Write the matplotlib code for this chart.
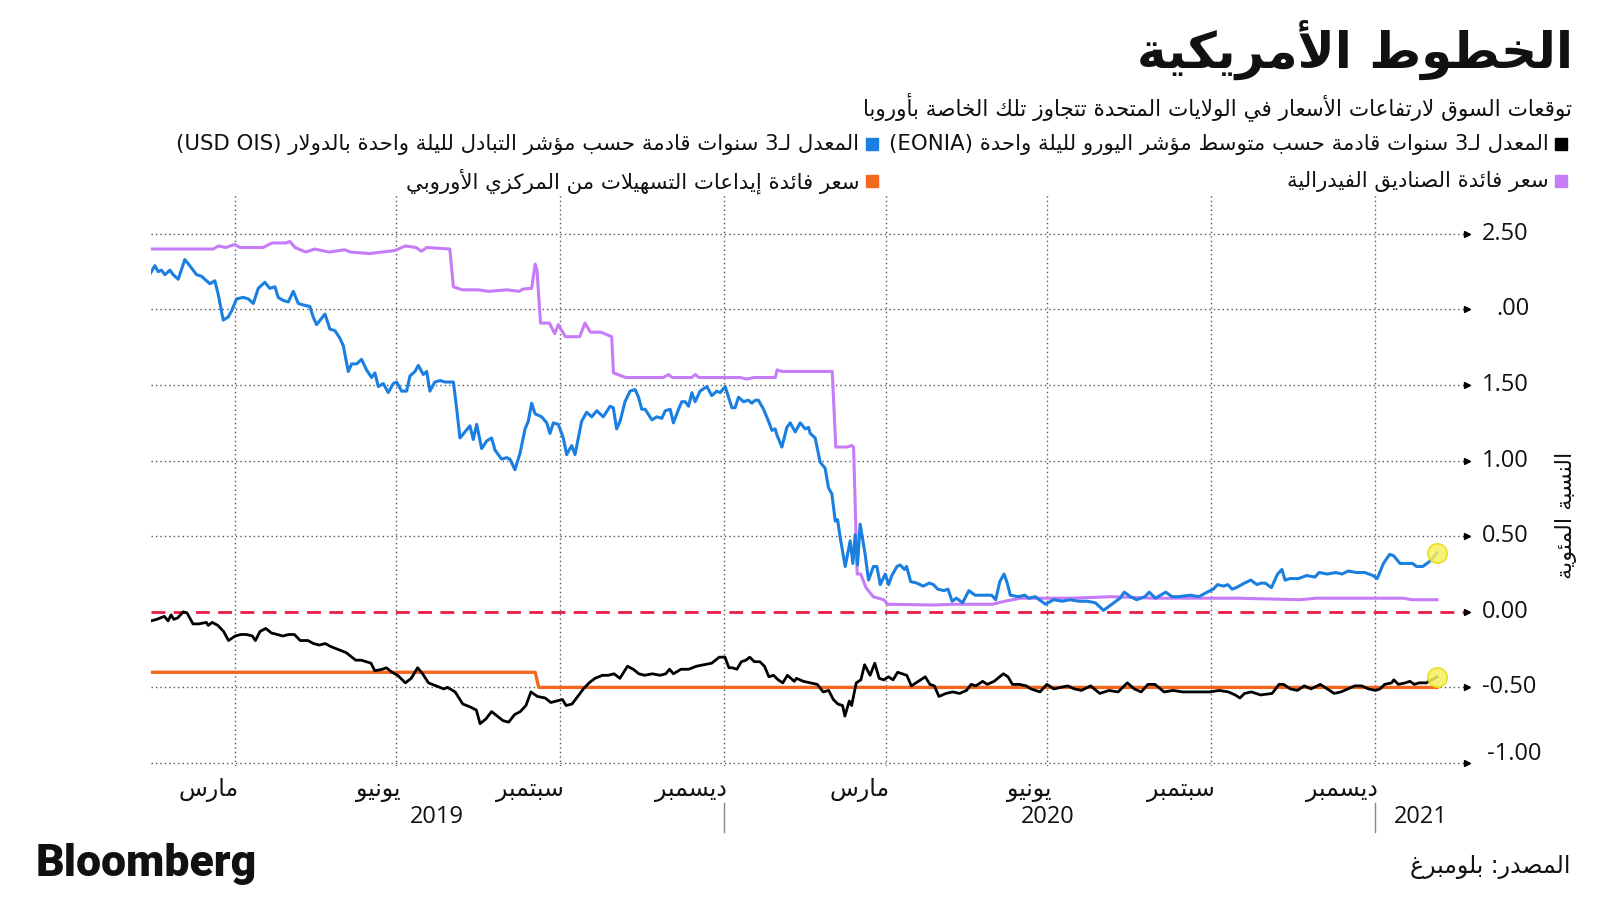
import re
import numpy as np
import pandas as pd
import matplotlib
matplotlib.use('Agg')
import matplotlib.pyplot as plt
import matplotlib.transforms as mtransforms
from matplotlib.patches import Rectangle

# ---- data -------------------------------------------------------------
# (days after 2019-04-01, percent)
BASE = pd.Timestamp('2019-04-01')

usd_ois = [
    (-47.3, 2.24), (-44.8, 2.29), (-43.0, 2.25), (-41.1, 2.26), (-39.2, 2.23), (-36.4, 2.26),
    (-34.5, 2.23), (-31.7, 2.20), (-28.0, 2.33), (-25.2, 2.29), (-21.4, 2.23), (-18.6, 2.22),
    (-16.7, 2.20), (-13.9, 2.17), (-11.1, 2.19), (-9.2, 2.10), (-6.4, 1.93), (-3.6, 1.95),
    (-1.7, 1.99), (1.1, 2.07), (4.8, 2.08), (7.7, 2.07), (10.5, 2.04), (13.3, 2.14),
    (17.0, 2.18), (19.8, 2.14), (22.7, 2.15), (24.5, 2.08), (27.3, 2.06), (30.2, 2.05),
    (33.0, 2.12), (35.8, 2.04), (38.6, 2.03), (42.3, 2.02), (44.2, 1.95), (46.1, 1.90),
    (50.8, 1.97), (53.6, 1.87), (56.4, 1.86), (59.2, 1.81), (61.1, 1.76), (63.9, 1.59),
    (65.8, 1.64), (68.6, 1.64), (71.4, 1.67), (74.2, 1.60), (77.0, 1.55), (78.9, 1.58),
    (80.8, 1.49), (83.6, 1.51), (86.4, 1.45), (89.2, 1.51), (91.1, 1.52), (93.9, 1.46),
    (96.7, 1.46), (98.6, 1.56), (101.4, 1.59), (103.3, 1.63), (106.1, 1.57), (108.0, 1.59),
    (109.8, 1.46), (112.6, 1.52), (115.5, 1.53), (118.3, 1.52), (123.0, 1.52), (124.8, 1.35),
    (126.7, 1.15), (129.5, 1.19), (132.3, 1.23), (134.2, 1.14), (136.1, 1.24), (138.9, 1.08),
    (141.7, 1.13), (144.5, 1.15), (146.4, 1.07), (150.1, 1.01), (153.0, 1.02), (154.8, 1.01),
    (157.6, 0.94), (160.5, 1.05), (163.3, 1.21), (165.1, 1.26), (167.0, 1.38), (168.9, 1.31),
    (172.6, 1.29), (175.5, 1.25), (177.3, 1.18), (179.2, 1.25), (182.0, 1.24), (184.8, 1.15),
    (186.7, 1.04), (189.5, 1.10), (191.4, 1.04), (195.1, 1.26), (197.9, 1.32), (200.8, 1.29),
    (203.6, 1.33), (207.3, 1.29), (211.1, 1.36), (212.9, 1.35), (214.8, 1.21), (216.7, 1.26),
    (219.5, 1.39), (222.3, 1.46), (225.2, 1.47), (227.1, 1.42), (228.9, 1.34), (230.8, 1.34),
    (234.6, 1.27), (237.4, 1.29), (240.2, 1.28), (242.1, 1.33), (244.9, 1.34), (246.7, 1.25),
    (249.6, 1.34), (251.4, 1.39), (253.3, 1.39), (255.2, 1.36), (257.1, 1.45), (258.9, 1.39),
    (261.7, 1.46), (265.5, 1.49), (268.3, 1.43), (271.1, 1.46), (273.0, 1.45), (275.8, 1.49),
    (279.6, 1.35), (281.4, 1.35), (283.3, 1.42), (286.1, 1.39), (288.9, 1.40), (290.8, 1.38),
    (292.7, 1.40), (294.5, 1.40), (297.4, 1.34), (300.2, 1.26), (302.1, 1.20), (303.9, 1.21),
    (304.9, 1.17), (307.7, 1.09), (310.5, 1.22), (312.4, 1.25), (315.2, 1.19), (318.0, 1.25),
    (320.8, 1.21), (322.7, 1.22), (323.6, 1.18), (326.4, 1.15), (329.2, 0.99), (332.0, 0.95),
    (333.9, 0.82), (335.8, 0.78), (337.7, 0.60), (339.0, 0.61), (340.5, 0.49), (343.3, 0.30),
    (346.1, 0.47), (347.6, 0.32), (348.9, 0.51), (350.2, 0.31), (351.7, 0.58), (354.5, 0.38),
    (356.4, 0.21), (359.2, 0.30), (361.1, 0.30), (363.0, 0.18), (365.8, 0.25), (367.7, 0.18),
    (369.5, 0.24), (372.4, 0.30), (374.2, 0.31), (376.6, 0.28), (377.8, 0.30), (380.1, 0.20),
    (383.6, 0.19), (387.1, 0.17), (390.6, 0.19), (392.9, 0.18), (395.3, 0.15), (398.8, 0.14),
    (401.1, 0.15), (403.4, 0.07), (405.8, 0.09), (409.3, 0.06), (412.8, 0.14), (416.3, 0.11),
    (420.9, 0.11), (425.6, 0.11), (427.9, 0.08), (430.2, 0.20), (432.6, 0.25), (434.4, 0.19),
    (436.1, 0.11), (440.7, 0.10), (444.2, 0.11), (446.6, 0.09), (450.1, 0.10), (453.6, 0.07),
    (455.9, 0.05), (460.5, 0.08), (465.2, 0.07), (469.9, 0.08), (474.5, 0.07), (479.2, 0.07),
    (483.9, 0.06), (488.5, 0.01), (490.9, 0.03), (494.3, 0.06), (497.8, 0.09), (500.2, 0.13),
    (503.7, 0.10), (507.2, 0.08), (511.8, 0.10), (514.2, 0.13), (517.7, 0.09), (523.5, 0.13),
    (527.0, 0.10), (530.5, 0.10), (537.5, 0.11), (542.1, 0.10), (546.8, 0.13), (550.3, 0.15),
    (552.6, 0.18), (556.1, 0.17), (558.4, 0.18), (560.8, 0.15), (563.1, 0.16), (567.8, 0.19),
    (571.3, 0.21), (574.8, 0.18), (577.1, 0.19), (579.4, 0.19), (582.9, 0.16), (586.4, 0.25),
    (588.8, 0.28), (590.6, 0.21), (593.4, 0.22), (598.1, 0.22), (602.7, 0.24), (607.4, 0.23),
    (609.7, 0.26), (614.4, 0.25), (619.1, 0.26), (622.6, 0.25), (626.1, 0.27), (630.7, 0.26),
    (635.4, 0.26), (640.0, 0.24), (642.4, 0.22), (645.9, 0.32), (649.4, 0.38), (651.7, 0.37),
    (655.2, 0.32), (658.7, 0.32), (662.2, 0.32), (664.5, 0.30), (668.0, 0.30), (671.5, 0.33),
    (674.0, 0.36), (676.0, 0.39)]

eonia = [
    (-47.1, -0.06), (-43.8, -0.05), (-39.5, -0.03), (-37.4, -0.06), (-35.7, -0.02), (-34.2, -0.05),
    (-32.0, -0.04), (-28.8, 0.00), (-26.6, -0.01), (-23.4, -0.08), (-20.2, -0.08), (-15.9, -0.07),
    (-14.8, -0.09), (-12.6, -0.07), (-9.4, -0.09), (-6.2, -0.13), (-3.4, -0.19), (0.3, -0.16),
    (3.5, -0.15), (6.7, -0.15), (10.0, -0.16), (11.7, -0.19), (14.3, -0.13), (17.5, -0.11),
    (20.7, -0.14), (24.0, -0.15), (27.2, -0.16), (30.4, -0.15), (33.6, -0.15), (36.9, -0.19),
    (41.2, -0.19), (44.4, -0.21), (47.6, -0.22), (50.9, -0.21), (54.1, -0.23), (58.4, -0.25),
    (62.7, -0.27), (65.9, -0.30), (68.1, -0.32), (71.3, -0.32), (76.7, -0.34), (78.8, -0.39),
    (83.1, -0.38), (85.3, -0.37), (88.5, -0.40), (91.7, -0.42), (96.0, -0.47), (99.3, -0.44),
    (102.9, -0.37), (105.7, -0.41), (109.0, -0.47), (113.3, -0.49), (117.6, -0.51), (119.7, -0.50),
    (124.0, -0.53), (128.3, -0.61), (132.6, -0.63), (135.9, -0.65), (138.0, -0.74), (141.2, -0.71),
    (144.5, -0.66), (147.7, -0.69), (150.9, -0.72), (154.1, -0.73), (157.4, -0.68), (160.6, -0.66),
    (163.8, -0.62), (166.6, -0.53), (170.3, -0.56), (174.6, -0.57), (177.8, -0.60), (181.1, -0.59),
    (184.3, -0.58), (186.4, -0.62), (189.7, -0.61), (192.9, -0.56), (196.1, -0.51), (199.3, -0.47),
    (202.6, -0.44), (206.9, -0.42), (210.1, -0.42), (213.3, -0.41), (216.6, -0.44), (220.9, -0.36),
    (224.1, -0.38), (227.3, -0.41), (230.5, -0.42), (234.9, -0.41), (239.2, -0.42), (242.4, -0.41),
    (244.5, -0.38), (246.7, -0.41), (251.0, -0.38), (255.3, -0.38), (259.6, -0.36), (263.9, -0.35),
    (268.2, -0.34), (272.5, -0.30), (275.7, -0.30), (277.9, -0.37), (279.8, -0.37), (282.4, -0.38),
    (284.9, -0.33), (287.5, -0.32), (289.6, -0.30), (292.2, -0.33), (295.3, -0.33), (297.9, -0.36),
    (300.4, -0.43), (303.0, -0.42), (305.6, -0.45), (308.2, -0.47), (310.8, -0.42), (314.7, -0.46),
    (315.9, -0.44), (319.8, -0.46), (323.7, -0.47), (327.6, -0.48), (330.9, -0.53), (334.0, -0.52),
    (336.6, -0.58), (339.2, -0.61), (341.8, -0.62), (343.1, -0.69), (345.6, -0.59), (346.9, -0.62),
    (349.5, -0.47), (352.1, -0.45), (354.2, -0.35), (356.0, -0.39), (357.3, -0.42), (359.9, -0.34),
    (362.4, -0.44), (365.0, -0.45), (367.6, -0.43), (370.2, -0.45), (372.8, -0.40), (375.4, -0.41),
    (377.9, -0.42), (380.5, -0.49), (384.4, -0.46), (388.3, -0.43), (390.9, -0.48), (393.4, -0.49),
    (396.0, -0.56), (399.9, -0.54), (403.8, -0.53), (407.6, -0.54), (411.5, -0.52), (414.1, -0.48),
    (416.7, -0.49), (420.6, -0.46), (423.1, -0.48), (427.0, -0.46), (432.2, -0.41), (434.8, -0.43),
    (437.3, -0.48), (441.2, -0.48), (445.1, -0.49), (447.7, -0.51), (450.3, -0.52), (452.8, -0.53),
    (456.7, -0.48), (460.6, -0.51), (468.3, -0.49), (472.2, -0.51), (476.1, -0.52), (481.3, -0.49),
    (486.4, -0.54), (491.6, -0.52), (496.7, -0.53), (501.9, -0.47), (505.8, -0.51), (509.7, -0.53),
    (513.5, -0.48), (517.4, -0.48), (522.6, -0.53), (527.7, -0.52), (532.9, -0.53), (538.1, -0.53),
    (543.2, -0.53), (548.4, -0.53), (553.6, -0.52), (558.7, -0.53), (562.6, -0.55), (565.2, -0.57),
    (567.8, -0.54), (571.7, -0.53), (576.8, -0.55), (583.3, -0.54), (587.2, -0.48), (589.7, -0.48),
    (593.6, -0.51), (597.5, -0.52), (601.4, -0.49), (605.2, -0.51), (610.4, -0.48), (615.6, -0.52),
    (618.2, -0.54), (622.0, -0.53), (625.9, -0.51), (629.8, -0.49), (633.7, -0.49), (637.5, -0.51),
    (641.4, -0.52), (644.0, -0.51), (646.6, -0.48), (650.5, -0.47), (651.7, -0.45), (654.3, -0.48),
    (658.2, -0.47), (660.8, -0.46), (663.3, -0.48), (665.9, -0.47), (670.0, -0.47), (673.0, -0.45),
    (676.0, -0.43)]

fed_dates = ['2019-02-13', '2019-03-20', '2019-03-23', '2019-03-27', '2019-04-01', '2019-04-04',
             '2019-04-17', '2019-04-22', '2019-04-30', '2019-05-02', '2019-05-05', '2019-05-11',
             '2019-05-16', '2019-05-24', '2019-06-02', '2019-06-05', '2019-06-16', '2019-06-23',
             '2019-06-30', '2019-07-06', '2019-07-12', '2019-07-15', '2019-07-18', '2019-07-31',
             '2019-08-02', '2019-08-07', '2019-08-16', '2019-08-22', '2019-09-01', '2019-09-08',
             '2019-09-10', '2019-09-15', '2019-09-17', '2019-09-18', '2019-09-20', '2019-09-25',
             '2019-09-28', '2019-09-30', '2019-10-04', '2019-10-12', '2019-10-15', '2019-10-18',
             '2019-10-24', '2019-10-30', '2019-10-31', '2019-11-07', '2019-11-28', '2019-12-01',
             '2019-12-03', '2019-12-14', '2019-12-16', '2019-12-18', '2020-01-10', '2020-01-14',
             '2020-01-18', '2020-01-30', '2020-01-31', '2020-02-03', '2020-03-02', '2020-03-04',
             '2020-03-10', '2020-03-13', '2020-03-14', '2020-03-16', '2020-03-18', '2020-03-21',
             '2020-03-25', '2020-03-31', '2020-04-02', '2020-04-28', '2020-05-10', '2020-05-31',
             '2020-06-07', '2020-06-16', '2020-06-30', '2020-07-14', '2020-08-06', '2020-08-30',
             '2020-10-16', '2020-11-20', '2020-11-29', '2021-01-17', '2021-01-22', '2021-02-05']
fed_rate = [2.40, 2.40, 2.42, 2.41, 2.43, 2.41, 2.41, 2.44, 2.44, 2.45, 2.41, 2.38,
            2.40, 2.38, 2.395, 2.38, 2.37, 2.38, 2.39, 2.42, 2.41, 2.385, 2.41, 2.40,
            2.15, 2.13, 2.13, 2.12, 2.13, 2.12, 2.135, 2.14, 2.30, 2.26, 1.91, 1.91,
            1.84, 1.90, 1.82, 1.82, 1.91, 1.85, 1.85, 1.82, 1.58, 1.55, 1.55, 1.57,
            1.55, 1.55, 1.57, 1.55, 1.55, 1.54, 1.55, 1.55, 1.60, 1.59, 1.59, 1.09,
            1.09, 1.10, 1.09, 0.25, 0.25, 0.16, 0.10, 0.08, 0.05, 0.045, 0.05, 0.05,
            0.07, 0.09, 0.09, 0.09, 0.10, 0.09, 0.09, 0.08, 0.09, 0.09, 0.08, 0.08]

ecb_dates = ['2019-02-13', '2019-09-17', '2019-09-19', '2021-02-05']
ecb_rate = [-0.40, -0.40, -0.50, -0.50]

grid_vals = [2.5, 2.0, 1.5, 1.0, 0.5, -0.5, -1.0]
tick_texts = ['2.50', '.00', '1.50', '1.00', '0.50', '0.00', '-0.50', '-1.00']
tick_vals = [2.5, 2.0, 1.5, 1.0, 0.5, 0.0, -0.5, -1.0]

month_dates = ['2019-04-01', '2019-07-01', '2019-10-01', '2020-01-01',
               '2020-04-01', '2020-07-01', '2020-10-01', '2021-01-01']
month_names = ['مارس', 'يونيو', 'سبتمبر', 'ديسمبر', 'مارس', 'يونيو', 'سبتمبر', 'ديسمبر']
years = ['2019', '2020', '2021']
year_pos = ['2019-07-24', '2020-07-01', '2021-01-27']
year_breaks = ['2020-01-01', '2021-01-01']

title = 'الخطوط الأمريكية'
subtitle = 'توقعات السوق لارتفاعات الأسعار في الولايات المتحدة تتجاوز تلك الخاصة بأوروبا'
leg_eonia = 'المعدل لـ3 سنوات قادمة حسب متوسط مؤشر اليورو لليلة واحدة (EONIA)'
leg_ois = 'المعدل لـ3 سنوات قادمة حسب مؤشر التبادل لليلة واحدة بالدولار (USD OIS)'
leg_fed = 'سعر فائدة الصناديق الفيدرالية'
leg_ecb = 'سعر فائدة إيداعات التسهيلات من المركزي الأوروبي'
ylabel = 'النسبة المئوية'
source = 'المصدر: بلومبرغ'

BLUE = '#1a7fe0'
PURPLE = '#c77cf7'
ORANGE = '#f5671d'
RED = '#ea1d48'

# ---- arabic shaping (matplotlib has no bidi / joining) ------------------
AR_LETTERS = 'ءآأؤإئابةتثجحخدذرزسشصضطظعغفقكلمنهوىي'
AR_NFORMS = [1, 2, 2, 2, 2, 4, 2, 4, 2, 4, 4, 4, 4, 4, 2, 2, 2, 2, 4, 4,
             4, 4, 4, 4, 4, 4, 4, 4, 4, 4, 4, 4, 4, 2, 2, 4]
FORMS = {}
_c = 0xFE80
for _ch, _n in zip(AR_LETTERS, AR_NFORMS):
    FORMS[_ch] = [chr(_c + i) for i in range(_n)]
    _c += _n
TATWEEL = 'ـ'
LAM_ALEF = {'ا': 0xFEFB, 'أ': 0xFEF7, 'إ': 0xFEF9, 'آ': 0xFEF5}
MIRROR = str.maketrans('()', ')(')


def joins_next(ch):
    return ch == TATWEEL or (ch in FORMS and len(FORMS[ch]) == 4)


def joins_prev(ch):
    return ch == TATWEEL or (ch in FORMS and len(FORMS[ch]) > 1)


def shape(s):
    out = []
    i = 0
    while i < len(s):
        ch = s[i]
        if ch not in FORMS:
            out.append(ch)
            i += 1
            continue
        jp = i > 0 and joins_next(s[i - 1])
        if ch == 'ل' and i + 1 < len(s) and s[i + 1] in LAM_ALEF:
            out.append(chr(LAM_ALEF[s[i + 1]] + (1 if jp else 0)))
            i += 2
            continue
        jn = joins_next(ch) and i + 1 < len(s) and joins_prev(s[i + 1])
        f = FORMS[ch]
        if jp and jn:
            out.append(f[3])
        elif jp and len(f) > 1:
            out.append(f[1])
        elif jn:
            out.append(f[2])
        else:
            out.append(f[0])
        i += 1
    return ''.join(out)


def ar(s):
    s = shape(s)
    parts = []
    pos = 0
    for m in re.finditer(r'[A-Za-z0-9](?:[A-Za-z0-9 .]*[A-Za-z0-9])?', s):
        parts.append(s[pos:m.start()][::-1].translate(MIRROR))
        parts.append(m.group())
        pos = m.end()
    parts.append(s[pos:][::-1].translate(MIRROR))
    return ''.join(reversed(parts))


def to_dates(pairs):
    days = np.array([p[0] for p in pairs])
    vals = np.array([p[1] for p in pairs])
    return BASE + pd.to_timedelta(days, unit='D'), vals


AR_FONT = ['DejaVu Sans']
NUM_FONT = ['Open Sans', 'DejaVu Sans']

# ---- figure ---------------------------------------------------------------
W, H = 1600, 901
fig = plt.figure(figsize=(16, 9.01), dpi=100)


def fx(x):
    return x / W


def fy(y):
    return 1 - y / H


ax = fig.add_axes([fx(151), fy(766), (1469 - 151) / W, (766 - 194) / H])
x_left, x_right = pd.Timestamp('2019-02-13'), pd.Timestamp('2021-02-23')
ax.set_xlim(x_left, x_right)
ax.set_ylim(-1.02, 2.764)
for s in ax.spines.values():
    s.set_visible(False)
ax.set_xticks([])
ax.set_yticks([])

for v in grid_vals:
    ax.plot([x_left, x_right - pd.Timedelta(days=2)], [v, v], color='#555555',
            lw=1, ls=(0, (1, 2.2)), zorder=1)
for d in month_dates:
    ax.axvline(pd.Timestamp(d), color='#555555', lw=1, ls=(0, (1, 2.2)), zorder=1)
ax.plot([x_left, x_right - pd.Timedelta(days=2)], [0, 0], color=RED, lw=2,
        ls=(0, (5, 3)), zorder=2)
for v in tick_vals:
    ax.plot([x_right - pd.Timedelta(days=1)], [v], marker='>', ms=5, color='black',
            clip_on=False, zorder=5)

ois_x, ois_y = to_dates(usd_ois)
eon_x, eon_y = to_dates(eonia)
ax.plot(pd.to_datetime(ecb_dates), ecb_rate, color=ORANGE, lw=2.4, zorder=3)
ax.plot(eon_x, eon_y, color='black', lw=2.0, zorder=4)
ax.plot(pd.to_datetime(fed_dates), fed_rate, color=PURPLE, lw=2.2, zorder=4)
ax.plot(ois_x, ois_y, color=BLUE, lw=2.2, zorder=5)
for xs, ys in ((ois_x, ois_y), (eon_x, eon_y)):
    ax.plot([xs[-1]], [ys[-1]], 'o', ms=14, mfc='#f6ef5c', mec='#e8dc10',
            mew=1.2, alpha=0.85, zorder=6, clip_on=False)

# y tick labels on the right
ytr = mtransforms.blended_transform_factory(fig.transFigure, ax.transData)
for v, t in zip(tick_vals, tick_texts):
    xx = 1482
    yy = v
    if t == '.00':
        xx = 1496
    if t == '-1.00':
        xx = 1487
        yy = v + 0.06
    fig.text(fx(xx), yy, t, transform=ytr, ha='left', va='center', fontsize=17,
             family=NUM_FONT, color='#111111')

# x labels
xtr = mtransforms.blended_transform_factory(ax.transData, fig.transFigure)
for d, name in zip(month_dates, month_names):
    ax.text(pd.Timestamp(d) + pd.Timedelta(days=2), fy(790), ar(name), transform=xtr,
            ha='right', va='center', fontsize=17, family=AR_FONT, color='#111111')
for d, yr in zip(year_pos, years):
    ax.text(pd.Timestamp(d), fy(817), yr, transform=xtr, ha='center', va='center',
            fontsize=17, family=NUM_FONT, color='#111111')
for d in year_breaks:
    ax.plot([pd.Timestamp(d)] * 2, [fy(803), fy(832)], transform=xtr, color='#888888',
            lw=1, clip_on=False)

# titles
fig.text(fx(1573), fy(50), ar(title), ha='right', va='center', fontsize=36,
         weight='bold', family=AR_FONT, color='#111111')
fig.text(fx(1572), fy(107), ar(subtitle), ha='right', va='center', fontsize=15.5,
         family=AR_FONT, color='#111111')

# legend: (square x, text right edge, y, colour, label)
legend_items = [(1561, 1549, 144, 'black', leg_eonia), (872, 859, 144, BLUE, leg_ois),
                (1561, 1549, 181, PURPLE, leg_fed), (872, 859, 181, ORANGE, leg_ecb)]
for sx, tx, y, c, t in legend_items:
    fig.patches.append(Rectangle((fx(sx - 6), fy(y + 6)), 12 / W, 12 / H, color=c,
                                 transform=fig.transFigure))
    fig.text(fx(tx), fy(y), ar(t), ha='right', va='center', fontsize=15.3,
             family=AR_FONT, color='#111111')

fig.text(fx(1566), fy(515), ar(ylabel), rotation=90, ha='center', va='center',
         fontsize=16, family=AR_FONT, color='#111111')

fig.text(fx(36), fy(864), 'Bloomberg', ha='left', va='center', fontsize=32,
         weight='heavy', family=['Roboto', 'Liberation Sans'], color='#111111')
fig.text(fx(1571), fy(867), ar(source), ha='right', va='center', fontsize=17,
         family=AR_FONT, color='#111111')

fig.savefig('out.png', dpi=100)
